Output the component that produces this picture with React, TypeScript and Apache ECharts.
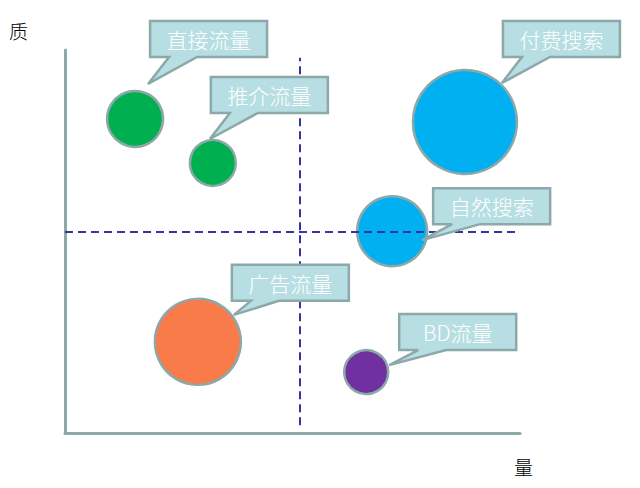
import React, { useEffect, useRef } from "react";
import * as echarts from "echarts";

// ---- data ----
const categories = ["直接流量", "推介流量", "付费搜索", "自然搜索", "广告流量", "BD流量"];
const quantity = [15.4, 32.5, 87.9, 71.9, 29.2, 66.2]; // 量 (x)
const quality = [82.0, 70.5, 81.2, 52.7, 23.8, 15.9]; // 质 (y)
const bubbleSize = [56, 46, 104, 70, 86, 44];
const dividerX = 51.6;
const dividerY = 52.5;
const xAxisTitle = "量";
const yAxisTitle = "质";

// ---- styles ----
const bubbleColors = ["#00B050", "#00B050", "#00B0F0", "#00B0F0", "#F97B4A", "#7030A0"];
const edgeColor = "#8DA8A8";
const calloutFill = "#B7DFE3";
// callout box offset (top-left) and tail tip offset relative to the bubble centre, in px
const calloutOffsets = [
  { bx: 15, by: -98, tx: 13, ty: -35 },
  { bx: -2, by: -86, tx: -3, ty: -24 },
  { bx: 38, by: -101, tx: 37, ty: -39 },
  { bx: 41, by: -43, tx: 30, ty: 9 },
  { bx: 34, by: -77, tx: 36, ty: -27 },
  { bx: 33, by: -58, tx: 23, ty: -7 },
];
const boxW = 117;
const boxH = 36;

export default function App() {
  const ref = useRef<HTMLDivElement>(null);
  useEffect(() => {
    if (!ref.current) return;
    const chart = echarts.init(ref.current, null, { renderer: "svg" });
    const points = categories.map((c, i) => ({
      name: c,
      value: [quantity[i], quality[i], bubbleSize[i]],
      itemStyle: { color: bubbleColors[i] },
    }));
    chart.setOption({
      animation: false,
      backgroundColor: "#ffffff",
      grid: { left: 65, top: 50, right: 120, bottom: 55 },
      xAxis: {
        type: "value",
        min: 0,
        max: 100,
        axisLine: { show: true, onZero: false, lineStyle: { color: edgeColor, width: 3 } },
        axisTick: { show: false },
        axisLabel: { show: false },
        splitLine: { show: false },
      },
      yAxis: {
        type: "value",
        min: 0,
        max: 100,
        axisLine: { show: true, onZero: false, lineStyle: { color: edgeColor, width: 3 } },
        axisTick: { show: false },
        axisLabel: { show: false },
        splitLine: { show: false },
      },
      graphic: [
        {
          type: "text",
          left: 9,
          top: 21,
          style: { text: yAxisTitle, fontSize: 19, fill: "#000", fontFamily: "Noto Sans CJK SC", fontWeight: 300 },
        },
        {
          type: "text",
          left: 514,
          top: 457,
          style: { text: xAxisTitle, fontSize: 19, fill: "#000", fontFamily: "Noto Sans CJK SC", fontWeight: 300 },
        },
      ],
      series: [
        {
          type: "scatter",
          data: points,
          symbolSize: (v: number[]) => v[2],
          itemStyle: { borderColor: edgeColor, borderWidth: 2.5, opacity: 1 },
          z: 3,
          markLine: {
            silent: true,
            symbol: "none",
            label: { show: false },
            lineStyle: { color: "#3535A0", width: 2, type: [8, 5] },
            data: [
              [{ coord: [dividerX, 2] }, { coord: [dividerX, 98] }],
              [{ coord: [0, dividerY] }, { coord: [99, dividerY] }],
            ],
          },
        },
        {
          type: "custom",
          z: 5,
          data: categories.map((c, i) => [quantity[i], quality[i]]),
          renderItem: (params: any, api: any) => {
            const p = api.coord([api.value(0), api.value(1)]);
            const o = calloutOffsets[params.dataIndex];
            const x0 = p[0] + o.bx;
            const y0 = p[1] + o.by;
            const x1 = x0 + boxW;
            const y1 = y0 + boxH;
            const tipX = p[0] + o.tx;
            const tipY = p[1] + o.ty;
            return {
              type: "group",
              children: [
                {
                  type: "polygon",
                  shape: {
                    points: [
                      [x0, y0],
                      [x1, y0],
                      [x1, y1],
                      [x0 + 47, y1],
                      [tipX, tipY],
                      [x0 + 19, y1],
                      [x0, y1],
                    ],
                  },
                  style: { fill: calloutFill, stroke: edgeColor, lineWidth: 2.5, lineJoin: "miter" },
                },
                {
                  type: "text",
                  x: (x0 + x1) / 2,
                  y: (y0 + y1) / 2,
                  style: {
                    text: categories[params.dataIndex],
                    fill: "#ffffff",
                    fontSize: 21,
                    fontFamily: "Noto Sans CJK SC",
                    fontWeight: 300,
                    align: "center",
                    verticalAlign: "middle",
                  },
                },
              ],
            };
          },
        },
      ],
    });
    return () => chart.dispose();
  }, []);
  return (
    <div
      ref={ref}
      style={{ position: "fixed", left: 0, top: 0, width: 640, height: 488, background: "#fff" }}
    />
  );
}
